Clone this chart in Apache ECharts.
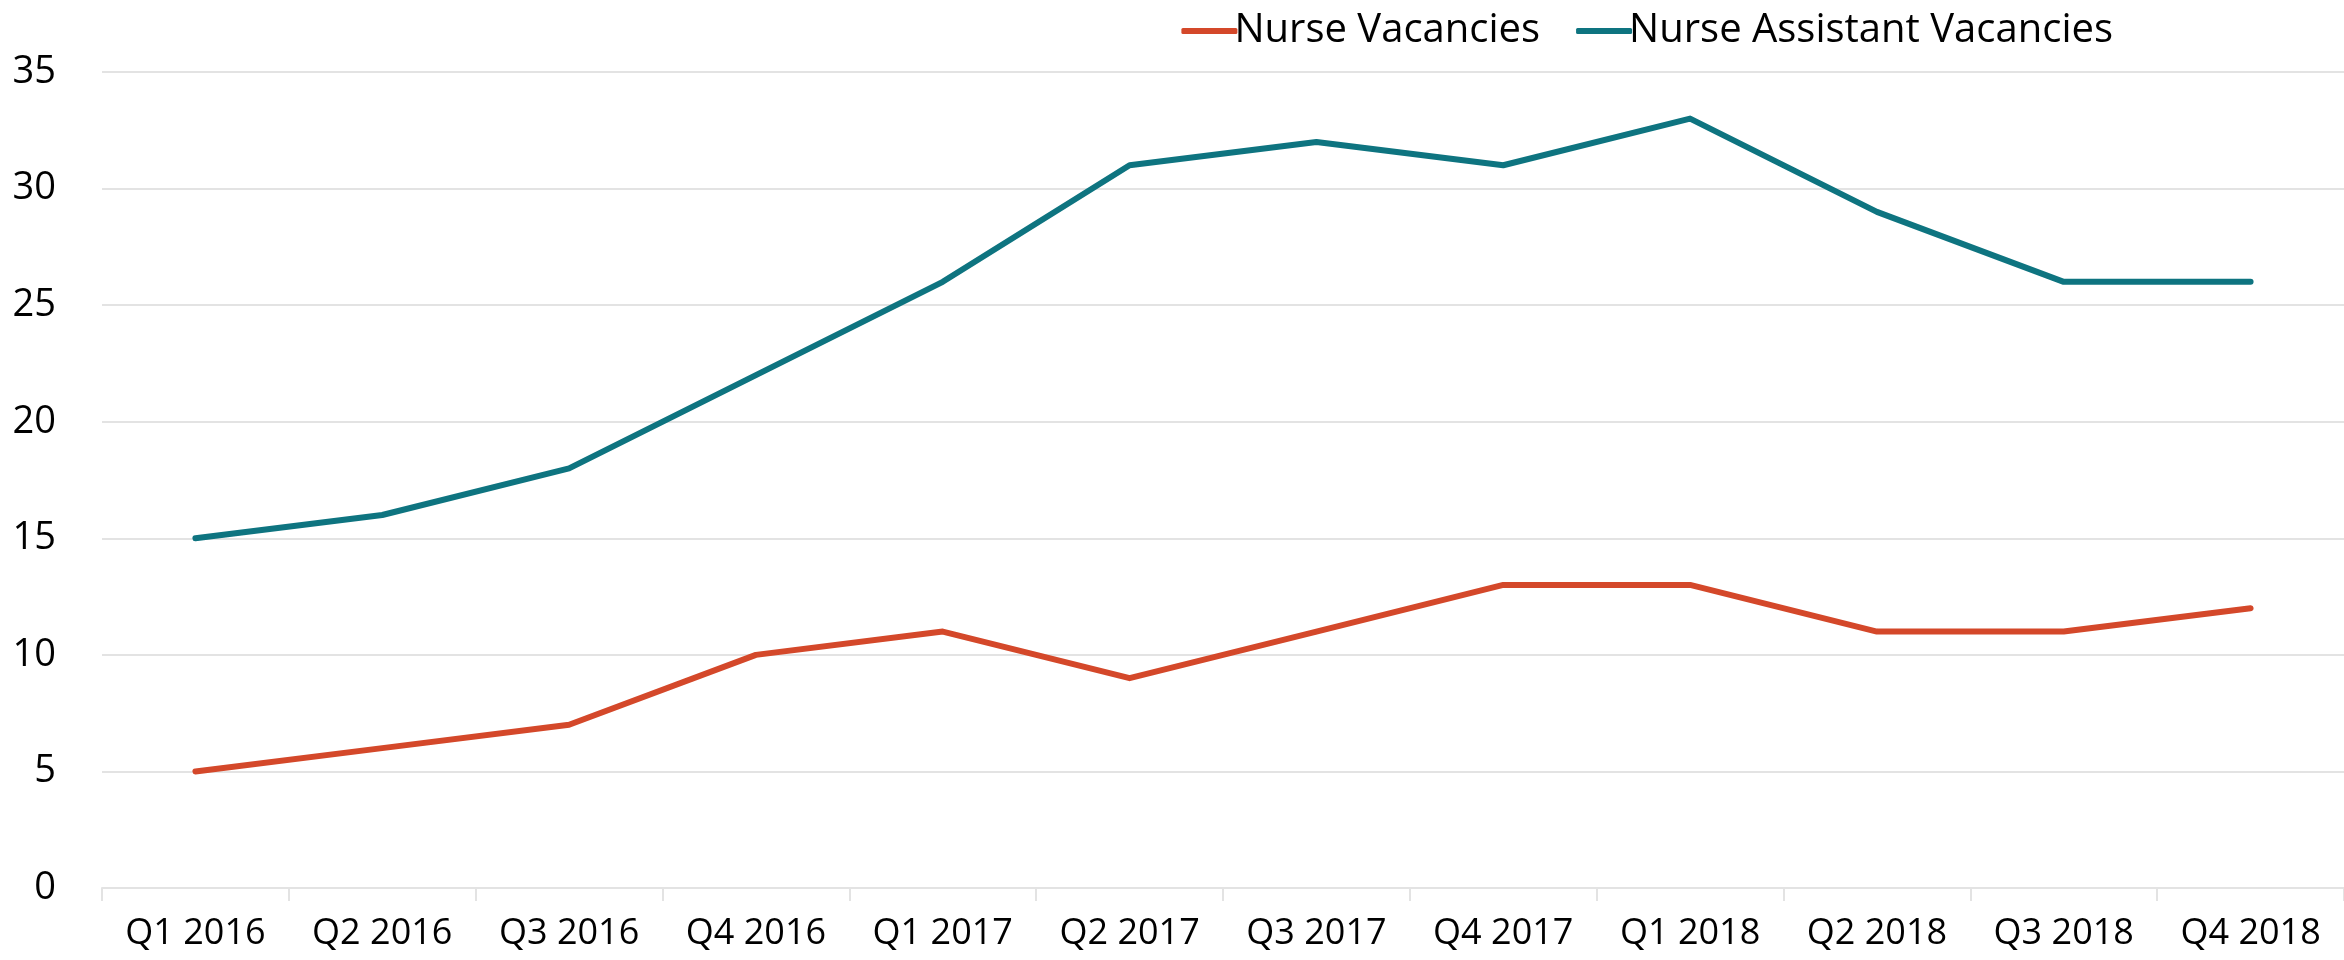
<!DOCTYPE html>
<html>
<head>
    <meta charset="utf-8">
    <title>Vacancies</title>
    <script src="https://cdn.jsdelivr.net/npm/echarts@6/dist/echarts.min.js"></script>
    <style>
        html, body { margin: 0; padding: 0; background: #fff; }
        #chart { width: 2344px; height: 960px; }
    </style>
</head>
<body>
    <div id="chart"></div>
    <script type="text/javascript">
        var quarters = ['Q1 2016', 'Q2 2016', 'Q3 2016', 'Q4 2016', 'Q1 2017', 'Q2 2017',
                        'Q3 2017', 'Q4 2017', 'Q1 2018', 'Q2 2018', 'Q3 2018', 'Q4 2018'];
        var nurseVacancies = [5, 6, 7, 10, 11, 9, 11, 13, 13, 11, 11, 12];
        var assistantVacancies = [15, 16, 18, 22, 26, 31, 32, 31, 33, 29, 26, 26];
        var yTicks = [0, 5, 10, 15, 20, 25, 30, 35];

        var myChart = echarts.init(document.getElementById('chart'));
        var fontFamily = '"Open Sans", "Noto Sans", sans-serif';

        var option = {
            animation: false,
            textStyle: { fontFamily: fontFamily },
            legend: {
                top: 6,
                right: 226,
                itemWidth: 56,
                itemHeight: 6,
                itemGap: 36,
                icon: 'roundRect',
                textStyle: { fontSize: 40, color: '#000', fontFamily: fontFamily, padding: [0, 0, 0, -8] },
                data: ['Nurse Vacancies', 'Nurse Assistant Vacancies']
            },
            grid: { left: 102, right: 0, top: 72, bottom: 72 },
            xAxis: {
                type: 'category',
                boundaryGap: true,
                data: quarters,
                axisLine: { lineStyle: { color: '#e3e3e3', width: 2 } },
                axisTick: { show: true, length: 13, lineStyle: { color: '#e3e3e3', width: 2 } },
                axisLabel: { fontSize: 36, color: '#000', margin: 28 }
            },
            yAxis: {
                type: 'value',
                min: yTicks[0],
                max: yTicks[yTicks.length - 1],
                interval: 5,
                axisLine: { show: false },
                axisTick: { show: false },
                axisLabel: { fontSize: 38, color: '#000', margin: 46 },
                splitLine: { lineStyle: { color: '#e3e3e3', width: 2 } }
            },
            series: [
                {
                    name: 'Nurse Vacancies',
                    type: 'line',
                    data: nurseVacancies,
                    symbol: 'none',
                    lineStyle: { color: '#d4482a', width: 6, cap: 'round', join: 'round' },
                    itemStyle: { color: '#d4482a' }
                },
                {
                    name: 'Nurse Assistant Vacancies',
                    type: 'line',
                    data: assistantVacancies,
                    symbol: 'none',
                    lineStyle: { color: '#0e7480', width: 6, cap: 'round', join: 'round' },
                    itemStyle: { color: '#0e7480' }
                }
            ]
        };

        myChart.setOption(option);
    </script>
</body>
</html>
